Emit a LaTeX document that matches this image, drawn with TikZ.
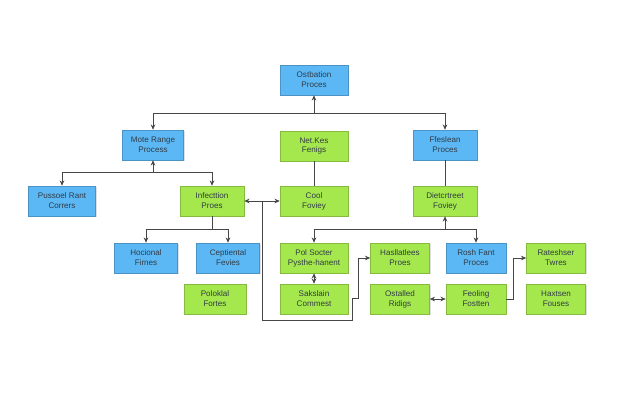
\documentclass[tikz,border=0pt]{standalone}
\usepackage{fontspec}
\setmainfont{Liberation Sans}
\usetikzlibrary{arrows.meta,shadows}
\definecolor{boxblue}{RGB}{92,184,245}
\definecolor{boxgreen}{RGB}{165,232,78}
\definecolor{linegray}{RGB}{70,70,70}
\definecolor{textgray}{RGB}{50,60,70}

\begin{document}
\begin{tikzpicture}[x=0.02cm,y=-0.02cm,>={Stealth[length=3pt,width=2.6pt]},
  box/.style={draw=#1!80!black,fill=#1,line width=0.3pt,minimum height=0.6cm,
    align=center,text=textgray,font=\fontsize{4.6}{5.6}\selectfont,inner sep=1pt,
    drop shadow={shadow xshift=0.6pt,shadow yshift=-0.8pt,opacity=0.25}},
  blue/.style={box=boxblue},
  green/.style={box=boxgreen},
  link/.style={draw=linegray,line width=0.45pt}]
  \useasboundingbox[fill=white] (0,0) rectangle (625,400);
  % top of the tree
  \node[blue,minimum width=1.36cm] (ostb) at (314,80) {Ostbation\\Proces};
  \node[blue,minimum width=1.22cm] (mote) at (153,145) {Mote Range\\Process};
  \node[green,minimum width=1.36cm] (netk) at (314,146) {Net.Kes\\Fenigs};
  \node[blue,minimum width=1.28cm] (ffes) at (445,145) {Ffeslean\\Proces};
  % second row
  \node[blue,minimum width=1.34cm] (puss) at (62,201) {Pussoel Rant\\Corrers};
  \node[green,minimum width=1.28cm] (infe) at (212,201) {Infecttion\\Proes};
  \node[green,minimum width=1.36cm] (cool) at (314,201) {Cool\\Foviey};
  \node[green,minimum width=1.28cm] (diet) at (445,201) {Dietcrtreet\\Foviey};
  % lower rows
  \node[blue,minimum width=1.26cm] (hoci) at (146,258) {Hocional\\Firnes};
  \node[blue,minimum width=1.26cm] (cept) at (228,258) {Ceptiental\\Fevies};
  \node[green,minimum width=1.24cm] (polo) at (215,299) {Poloklal\\Fortes};
  \node[green,minimum width=1.36cm] (pols) at (314,258) {Pol Socter\\Pysthe-hanent};
  \node[green,minimum width=1.36cm] (saks) at (314,299) {Sakslain\\Commest};
  \node[green,minimum width=1.18cm] (hasl) at (400,258) {Hasllatlees\\Proes};
  \node[green,minimum width=1.18cm] (osta) at (400,299) {Ostalled\\Ridigs};
  \node[blue,minimum width=1.2cm] (rosh) at (476,258) {Rosh Fant\\Proces};
  \node[green,minimum width=1.2cm] (feol) at (476,299) {Feoling\\Fostten};
  \node[green,minimum width=1.18cm] (rate) at (556,258) {Rateshser\\Twres};
  \node[green,minimum width=1.18cm] (haxt) at (556,299) {Haxtsen\\Fouses};
  % junctions of the branching lines
  \coordinate (j1) at (314,113);
  \coordinate (j2) at (153,172);
  \coordinate (j3) at (262,201);
  \coordinate (j4) at (445,229);
  \coordinate (b1) at (262,320);
  \coordinate (b2) at (352,320);
  \coordinate (b3) at (352,298);
  \coordinate (b4) at (358,298);
  % connectors
  \draw[link,->] (j1) -- (ostb);
  \draw[link,->] (j1) -| (mote);
  \draw[link,->] (j1) -| (ffes);
  \draw[link,->] (j2) -- (mote);
  \draw[link,->] (j2) -| (puss);
  \draw[link,->] (j2) -| (infe);
  \draw[link] (netk) -- (cool);
  \draw[link] (ffes) -- (diet);
  \draw[link,->] (j3) -- (infe);
  \draw[link,->] (j3) -- (cool);
  \draw[link,->] (j3) -- (b1) -- (b2) -- (b3) -- (b4) |- (hasl);
  \draw[link,->] (j4) -- (diet);
  \draw[link,->] (j4) -| (pols);
  \draw[link,->] (j4) -| (rosh);
  \draw[link,<->] (pols) -- (saks);
  \draw[link,<->] (osta) -- (feol);
  \draw[link,->] (feol.east) -- ++(7,0) |- (rate);
  % the two lower blue boxes hang from the infection box
  \draw[link,->] (infe) -- ++(0,28) -| (hoci);
  \draw[link,->] (infe) ++(0,28) -| (cept);
\end{tikzpicture}
\end{document}
